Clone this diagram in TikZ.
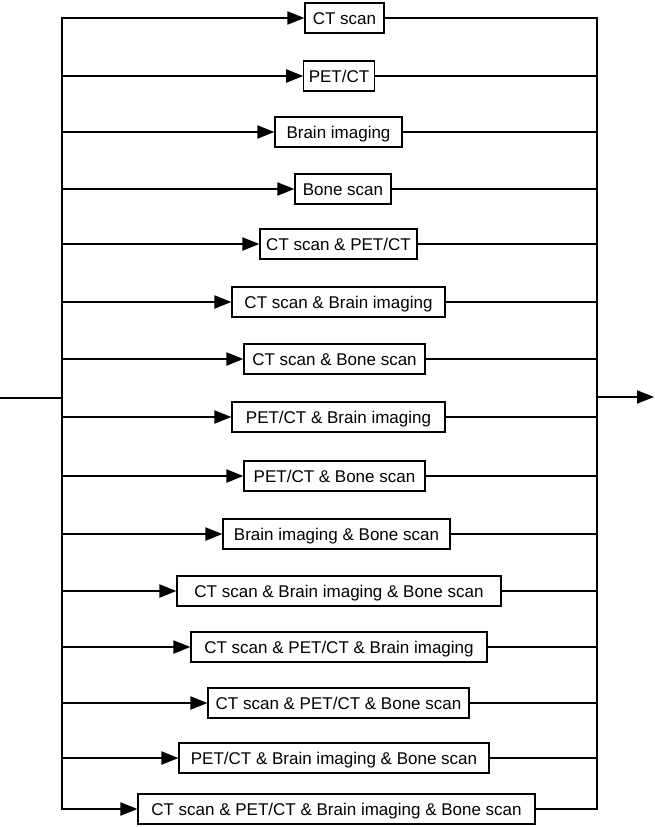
\documentclass[tikz,border=0pt]{standalone}
\usepackage{fontspec}
\setmainfont{Liberation Sans}
\usepackage{tikz}
\usetikzlibrary{arrows.meta}

\begin{document}
\begin{tikzpicture}[
  x=1pt, y=-1pt,
  test/.style={draw, line width=1.1pt, fill=white, minimum height=30pt,
    inner xsep=5pt, inner ysep=0pt, text height=12.2pt, text depth=0pt,
    font=\fontsize{17}{20}\selectfont},
  wire/.style={line width=1.9pt},
  >={Triangle[length=17pt, width=13pt]}
]
  \useasboundingbox (0,0) rectangle (654,827);
  % the fifteen imaging combinations
  \node[test, minimum width=79pt] (ct) at (344.5,18) {CT scan};
  \node[test, minimum width=70pt] (pet) at (339,76) {PET/CT};
  \node[test, minimum width=127pt] (brain) at (338.5,132) {Brain imaging};
  \node[test, minimum width=96pt] (bone) at (343,189) {Bone scan};
  \node[test, minimum width=157pt] (ctpet) at (338.5,244) {CT scan \& PET/CT};
  \node[test, minimum width=213pt] (ctbrain) at (338.5,302) {CT scan \& Brain imaging};
  \node[test, minimum width=181pt] (ctbone) at (334.5,359) {CT scan \& Bone scan};
  \node[test, minimum width=213pt] (petbrain) at (338.5,417) {PET/CT \& Brain imaging};
  \node[test, minimum width=181pt] (petbone) at (334.5,476) {PET/CT \& Bone scan};
  \node[test, minimum width=227pt] (brainbone) at (336.5,534) {Brain imaging \& Bone scan};
  \node[test, minimum width=324pt] (ctbrainbone) at (339,591) {CT scan \& Brain imaging \& Bone scan};
  \node[test, minimum width=296pt] (ctpetbrain) at (339,647) {CT scan \& PET/CT \& Brain imaging};
  \node[test, minimum width=261pt] (ctpetbone) at (338.5,703) {CT scan \& PET/CT \& Bone scan};
  \node[test, minimum width=310pt] (petbrainbone) at (334,758) {PET/CT \& Brain imaging \& Bone scan};
  \node[test, minimum width=397pt] (all) at (336.5,809) {CT scan \& PET/CT \& Brain imaging \& Bone scan};

  % buses, input and output
  \coordinate (in) at (0,398);
  \coordinate (out) at (654,397);
  \coordinate (lt) at (62,18);
  \coordinate (lb) at (62,809);
  \coordinate (rt) at (597,18);
  \coordinate (rb) at (597,809);
  \draw[wire, line cap=rect] (lt) -- (lb);
  \draw[wire, line cap=rect] (rt) -- (rb);
  \draw[wire] (in) -- (in -| lt);
  \draw[wire, ->] (out -| rt) -- (out);

  \draw[wire, ->] (lt |- ct) -- (ct.west); \draw[wire] (ct.east) -- (rt |- ct);
  \draw[wire, ->] (lt |- pet) -- (pet.west); \draw[wire] (pet.east) -- (rt |- pet);
  \draw[wire, ->] (lt |- brain) -- (brain.west); \draw[wire] (brain.east) -- (rt |- brain);
  \draw[wire, ->] (lt |- bone) -- (bone.west); \draw[wire] (bone.east) -- (rt |- bone);
  \draw[wire, ->] (lt |- ctpet) -- (ctpet.west); \draw[wire] (ctpet.east) -- (rt |- ctpet);
  \draw[wire, ->] (lt |- ctbrain) -- (ctbrain.west); \draw[wire] (ctbrain.east) -- (rt |- ctbrain);
  \draw[wire, ->] (lt |- ctbone) -- (ctbone.west); \draw[wire] (ctbone.east) -- (rt |- ctbone);
  \draw[wire, ->] (lt |- petbrain) -- (petbrain.west); \draw[wire] (petbrain.east) -- (rt |- petbrain);
  \draw[wire, ->] (lt |- petbone) -- (petbone.west); \draw[wire] (petbone.east) -- (rt |- petbone);
  \draw[wire, ->] (lt |- brainbone) -- (brainbone.west); \draw[wire] (brainbone.east) -- (rt |- brainbone);
  \draw[wire, ->] (lt |- ctbrainbone) -- (ctbrainbone.west); \draw[wire] (ctbrainbone.east) -- (rt |- ctbrainbone);
  \draw[wire, ->] (lt |- ctpetbrain) -- (ctpetbrain.west); \draw[wire] (ctpetbrain.east) -- (rt |- ctpetbrain);
  \draw[wire, ->] (lt |- ctpetbone) -- (ctpetbone.west); \draw[wire] (ctpetbone.east) -- (rt |- ctpetbone);
  \draw[wire, ->] (lt |- petbrainbone) -- (petbrainbone.west); \draw[wire] (petbrainbone.east) -- (rt |- petbrainbone);
  \draw[wire, ->] (lt |- all) -- (all.west); \draw[wire] (all.east) -- (rt |- all);
\end{tikzpicture}
\end{document}
